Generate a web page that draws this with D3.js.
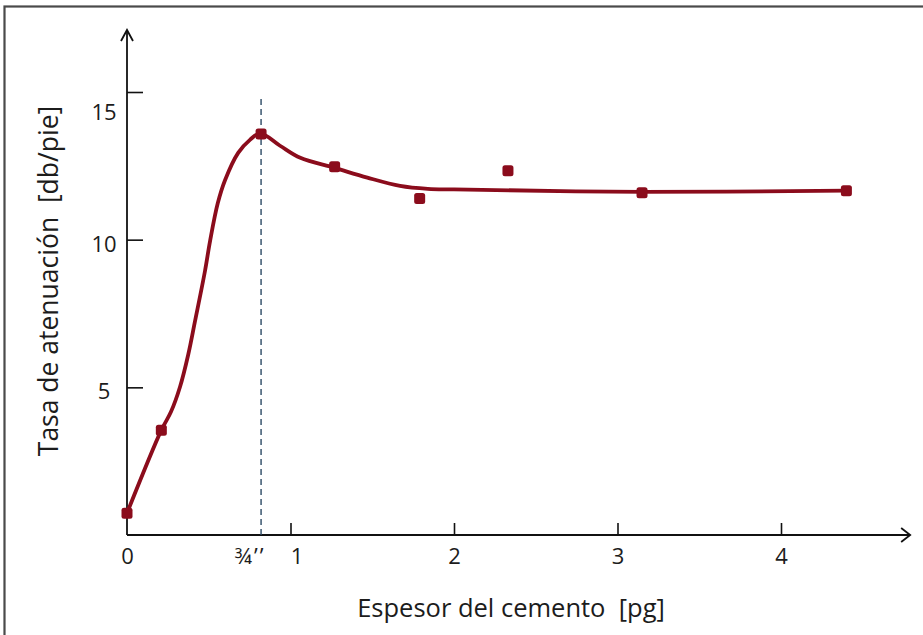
<!DOCTYPE html>
<html>
<head>
<meta charset="utf-8">
<script src="https://cdn.jsdelivr.net/npm/d3@7"></script>
<style>
  html, body { margin: 0; padding: 0; background: #fff; }
  svg { display: block; }
</style>
</head>
<body>
<svg id="chart" width="923" height="635"></svg>
<script>
// Measured attenuation rate vs. cement thickness
const sampleThickness = [0, 0.21, 0.82, 1.27, 1.79, 2.33, 3.15, 4.40];
const sampleRate      = [0.74, 3.55, 13.58, 12.47, 11.39, 12.33, 11.59, 11.66];

// Hand-fitted trend curve through the measurements
const curveThickness = [0, 0.21, 0.269, 0.324, 0.375, 0.416, 0.477, 0.508, 0.555, 0.60, 0.68, 0.752, 0.815,
                        0.936, 1.06, 1.27, 1.47, 1.67, 1.84, 2.0, 3.15, 4.40];
const curveRate      = [0.74, 3.55, 4.17, 5.01, 6.12, 7.24, 8.94, 9.95, 11.23, 12.02, 12.94, 13.38, 13.6,
                        13.18, 12.77, 12.43, 12.1, 11.82, 11.72, 11.7, 11.62, 11.66];

// Critical thickness marker (about 3/4 inch)
const criticalThickness = 0.82;

// Axis ticks and labels
const xTickMarks   = [1, 2, 3, 4];
const xLabelValues = [0, 0.75, 1, 2, 3, 4];
const xLabelText   = ["0", "\u00BE\u2019\u2019", "1", "2", "3", "4"];
const yTickMarks   = [5, 10, 15];
const yLabelValues = [4.85, 9.85, 14.3];
const yLabelText   = ["5", "10", "15"];

const xTitle = "Espesor del cemento  [pg]";
const yTitle = "Tasa de atenuaci\u00F3n  [db/pie]";

const svg = d3.select("#chart");
const font = "'Open Sans', 'Noto Sans', sans-serif";
const markColor = "#8b0c1c";
const textColor = "#1c1c1c";

// Outer frame
svg.append("rect")
  .attr("x", 4.5).attr("y", 6.5)
  .attr("width", 940).attr("height", 660)
  .attr("fill", "none").attr("stroke", "#4a4a4a").attr("stroke-width", 2.2);

const x = d3.scaleLinear().domain([0, 4]).range([127, 781]);
const y = d3.scaleLinear().domain([0, 15]).range([535, 92]);

const xEnd = 4.79;   // end of x axis arrow
const yEnd = 17.1;   // end of y axis arrow

// Axis lines with open arrowheads
const axes = svg.append("g").attr("stroke", "#111").attr("stroke-width", 1.8).attr("fill", "none");
axes.append("line").attr("x1", x(0)).attr("y1", y(0)).attr("x2", x(xEnd)).attr("y2", y(0));
axes.append("line").attr("x1", x(0)).attr("y1", y(0)).attr("x2", x(0)).attr("y2", y(yEnd));
axes.append("path")
  .attr("d", `M${x(xEnd) - 9},${y(0) - 7} L${x(xEnd)},${y(0)} L${x(xEnd) - 9},${y(0) + 7}`);
axes.append("path")
  .attr("d", `M${x(0) - 6},${y(yEnd) + 11} L${x(0)},${y(yEnd)} L${x(0) + 6},${y(yEnd) + 11}`);

// Tick marks pointing into the plot
const xTickAxis = d3.axisBottom(x).tickValues(xTickMarks).tickSize(-12).tickFormat("");
const gxt = svg.append("g").attr("transform", `translate(0,${y(0)})`).call(xTickAxis);
gxt.select(".domain").remove();
gxt.selectAll(".tick line").attr("stroke", "#111").attr("stroke-width", 1.6);

const yTickAxis = d3.axisLeft(y).tickValues(yTickMarks).tickSize(-16).tickFormat("");
const gyt = svg.append("g").attr("transform", `translate(${x(0)},0)`).call(yTickAxis);
gyt.select(".domain").remove();
gyt.selectAll(".tick line").attr("stroke", "#111").attr("stroke-width", 1.6);

// Tick labels
const xLabelAxis = d3.axisBottom(x).tickValues(xLabelValues).tickSize(0).tickPadding(13)
  .tickFormat((d, i) => xLabelText[i]);
const gxl = svg.append("g").attr("transform", `translate(0,${y(0)})`).call(xLabelAxis);
gxl.select(".domain").remove();
gxl.selectAll("text")
  .attr("font-family", font).attr("font-size", 22).attr("fill", textColor)
  .attr("letter-spacing", (d, i) => (i === 1 ? 2 : 0))
  .attr("dx", (d, i) => (xLabelText[i] === "1" ? 6 : 0));

const yLabelAxis = d3.axisLeft(y).tickValues(yLabelValues).tickSize(0).tickPadding(23)
  .tickFormat((d, i) => yLabelText[i]);
const gyl = svg.append("g").attr("transform", `translate(${x(0)},0)`).call(yLabelAxis);
gyl.select(".domain").remove();
gyl.selectAll("text")
  .attr("font-family", font).attr("font-size", 22).attr("fill", textColor)
  .attr("text-anchor", "middle").attr("x", -23);

// Axis titles
svg.append("text")
  .attr("x", 511).attr("y", 617)
  .attr("text-anchor", "middle")
  .attr("font-family", font).attr("font-size", 25.5).attr("fill", textColor)
  .style("white-space", "pre")
  .text(xTitle);

svg.append("text")
  .attr("transform", "translate(58,281) rotate(-90)")
  .attr("text-anchor", "middle")
  .attr("font-family", font).attr("font-size", 26.5).attr("fill", textColor)
  .style("white-space", "pre")
  .text(yTitle);

// Dashed marker at the critical thickness
svg.append("line")
  .attr("x1", x(criticalThickness)).attr("x2", x(criticalThickness))
  .attr("y1", y(0)).attr("y2", 97)
  .attr("stroke", "#2c4a66").attr("stroke-width", 1.4)
  .attr("stroke-dasharray", "6,4");

// Trend curve
const curveData = curveThickness.map((d, i) => [d, curveRate[i]]);
const line = d3.line()
  .x(d => x(d[0])).y(d => y(d[1]))
  .curve(d3.curveCatmullRom.alpha(0.5));
svg.append("path")
  .datum(curveData)
  .attr("d", line)
  .attr("fill", "none")
  .attr("stroke", markColor)
  .attr("stroke-width", 3.8)
  .attr("stroke-linejoin", "round")
  .attr("stroke-linecap", "round");

// Measured points
const pts = sampleThickness.map((d, i) => [d, sampleRate[i]]);
svg.append("g").selectAll("rect")
  .data(pts)
  .join("rect")
  .attr("x", d => x(d[0]) - 5.5)
  .attr("y", d => y(d[1]) - 5.5)
  .attr("width", 11).attr("height", 11)
  .attr("rx", 2.5)
  .attr("fill", markColor);
</script>
</body>
</html>
